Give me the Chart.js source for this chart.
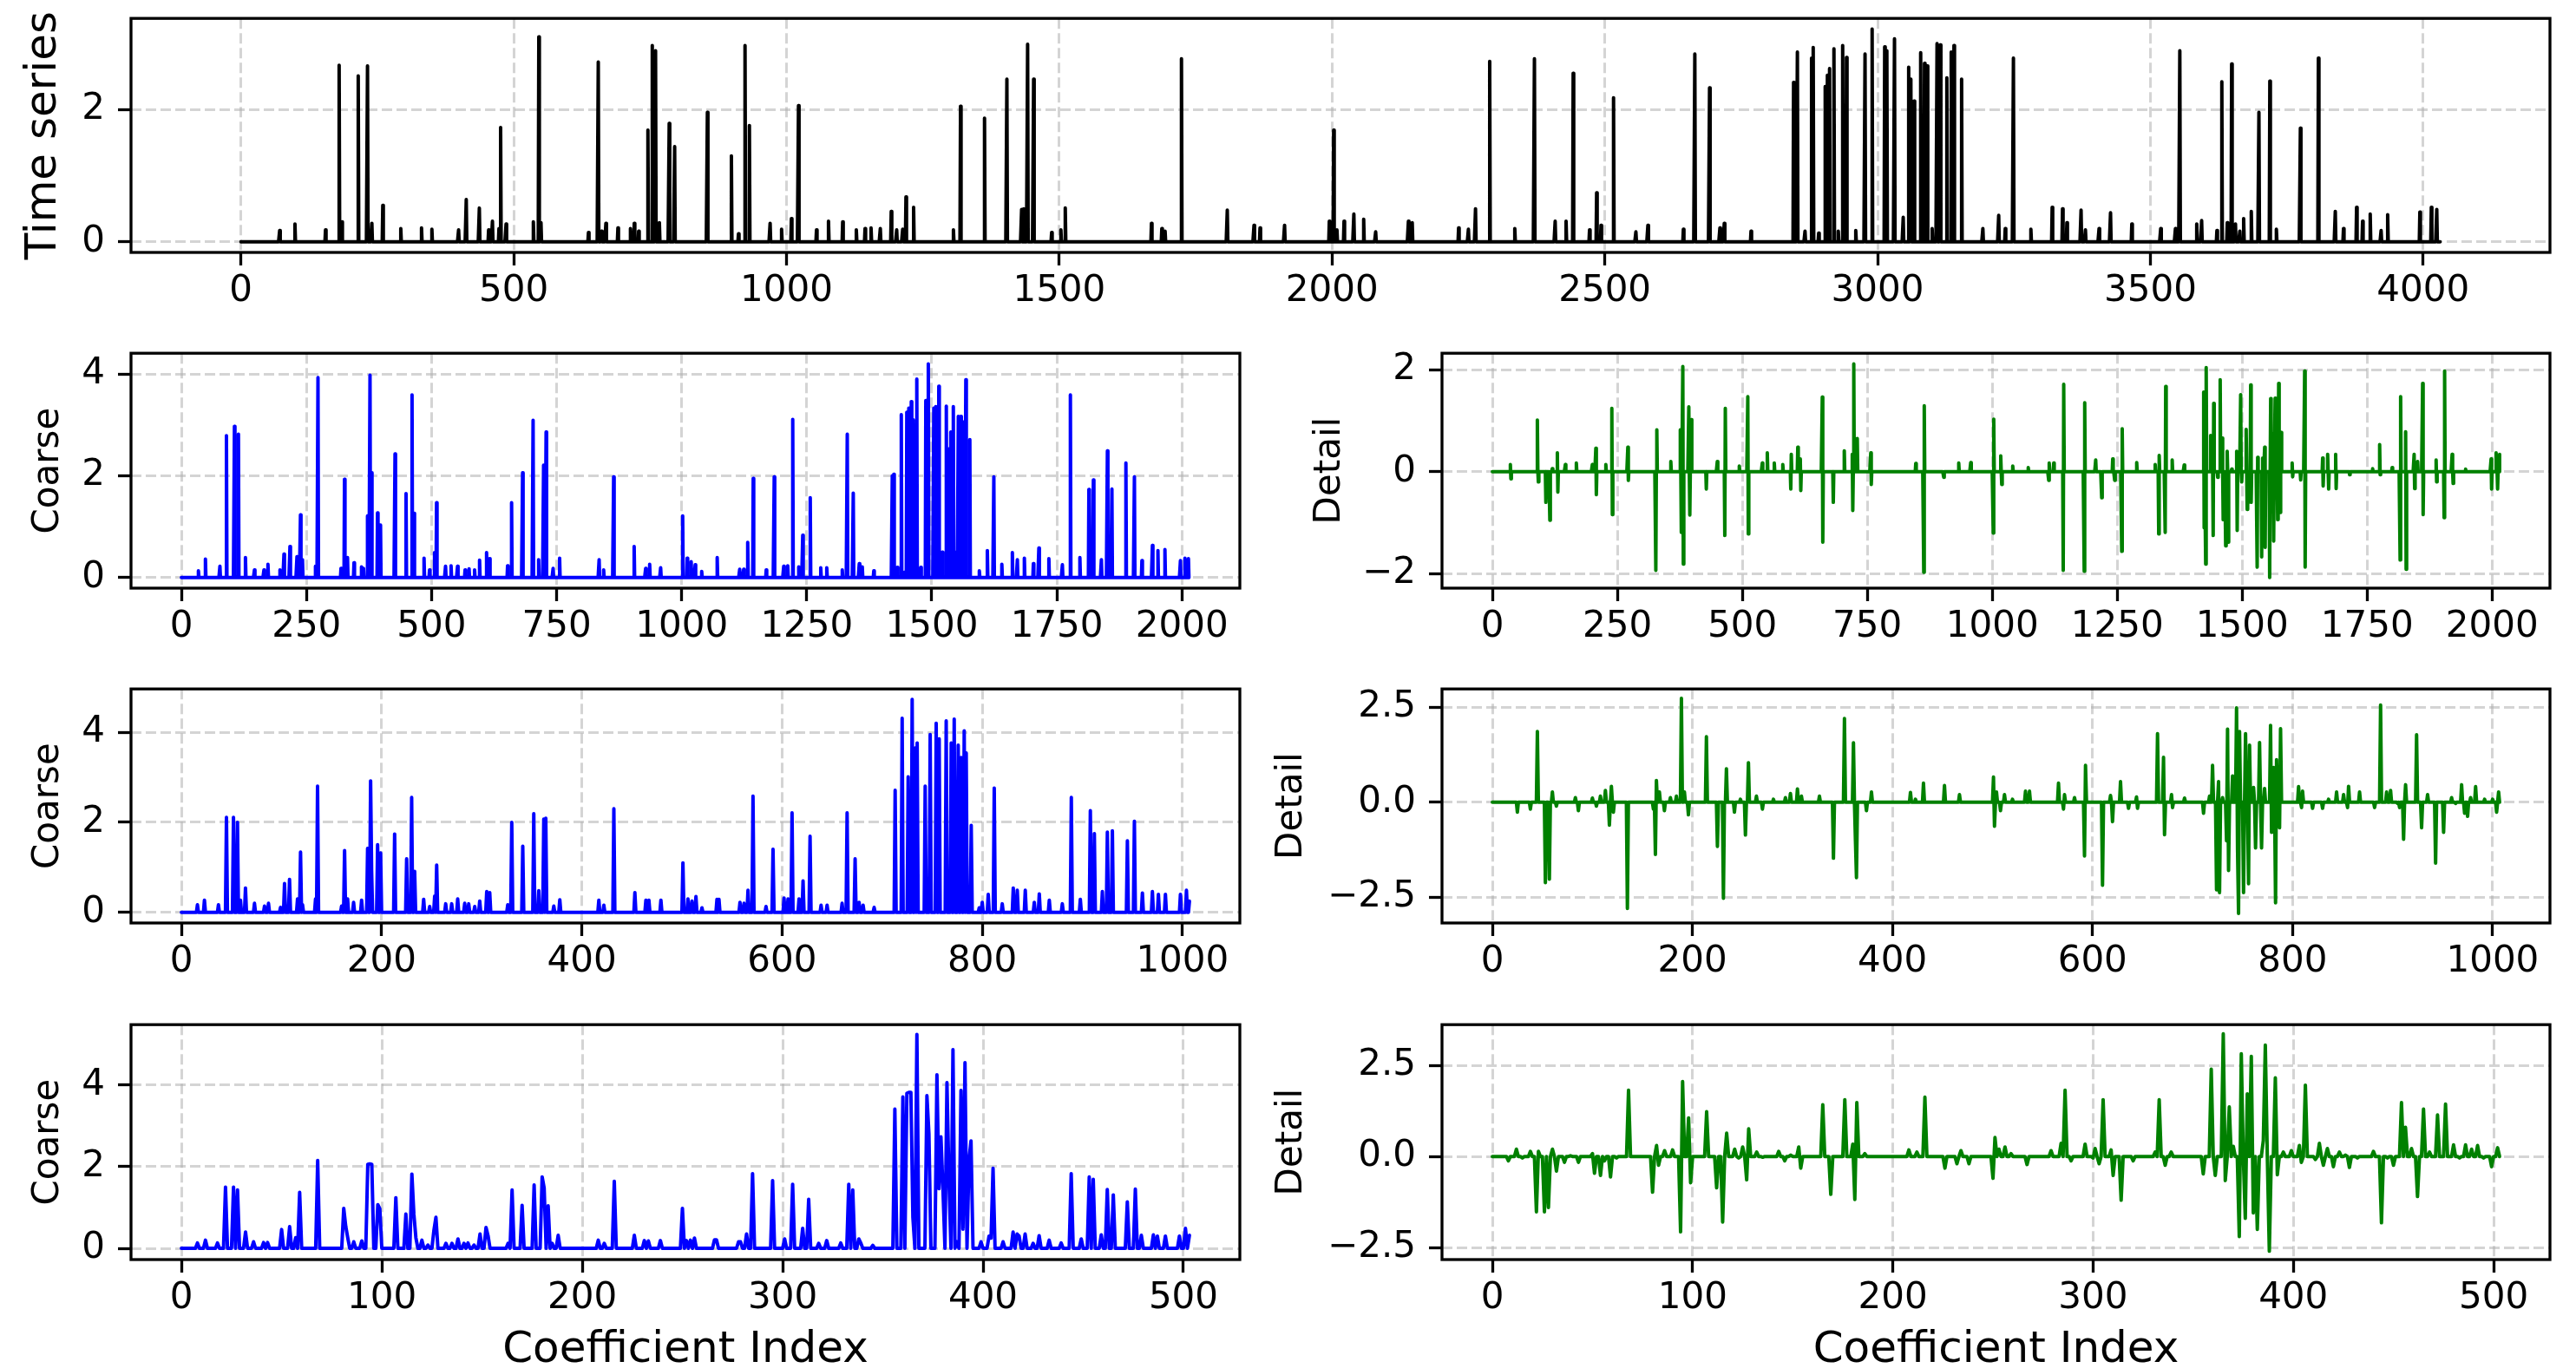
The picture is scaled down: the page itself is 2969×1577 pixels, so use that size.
<!DOCTYPE html>
<html>
<head>
<meta charset="utf-8">
<script src="https://cdn.jsdelivr.net/npm/chart.js@4.4.1/dist/chart.umd.min.js"></script>
<style>
  body { margin: 0; background: #fff; width: 2969px; height: 1577px; overflow: hidden; position: relative; }
  canvas { position: absolute; }
</style>
</head>
<body>
<canvas id="ts"></canvas>
<canvas id="c1"></canvas>
<canvas id="d1"></canvas>
<canvas id="c2"></canvas>
<canvas id="d2"></canvas>
<canvas id="c3"></canvas>
<canvas id="d3"></canvas>
<script>
// lengths of each series
const tsLength = 4032, level1Length = 2016, level2Length = 1008, level3Length = 504;

// [index, value] pairs, everything else sits at 0
const tsSpikes = [[71,0.17],[99,0.27],[155,0.18],[180,2.67],[185,0.3],[215,2.51],[232,2.66],[240,0.28],[260,0.55],[293,0.2],[331,0.21],[350,0.19],[399,0.18],[413,0.64],[437,0.51],[454,0.18],[461,0.31],[473,0.2],[476,1.73],[486,0.27],[536,0.3],[546,3.1],[550,0.29],[637,0.14],[655,2.72],[661,0.16],[669,0.28],[691,0.21],[714,0.2],[721,0.28],[729,0.16],[746,1.69],[754,2.97],[760,2.89],[767,0.29],[785,1.79],[795,1.44],[855,1.96],[899,1.3],[912,0.12],[924,2.97],[932,1.76],[970,0.28],[991,0.19],[1009,0.35],[1022,2.06],[1055,0.18],[1077,0.31],[1103,0.3],[1128,0.18],[1144,0.2],[1155,0.21],[1172,0.2],[1192,0.46],[1202,0.18],[1213,0.19],[1219,0.68],[1233,0.52],[1306,0.18],[1319,2.05],[1363,1.87],[1404,2.46],[1431,0.49],[1435,0.5],[1442,2.99],[1453,2.46],[1486,0.14],[1503,0.18],[1511,0.51],[1669,0.28],[1688,0.2],[1694,0.16],[1724,2.77],[1808,0.48],[1857,0.25],[1868,0.21],[1913,0.25],[1995,0.31],[2003,1.69],[2009,0.18],[2022,0.31],[2040,0.42],[2058,0.34],[2080,0.15],[2140,0.31],[2147,0.29],[2232,0.21],[2250,0.19],[2263,0.5],[2289,2.73],[2335,0.2],[2371,2.77],[2409,0.31],[2429,0.31],[2442,2.55],[2472,0.18],[2485,0.74],[2493,0.25],[2516,2.18],[2557,0.15],[2579,0.25],[2644,0.19],[2665,2.84],[2692,2.33],[2711,0.21],[2719,0.28],[2768,0.16],[2846,2.41],[2853,2.87],[2867,0.16],[2879,2.78],[2882,2.94],[2892,0.13],[2904,2.35],[2908,2.52],[2912,2.62],[2920,2.92],[2928,0.16],[2936,2.97],[2943,2.79],[2960,0.17],[2977,2.84],[2990,3.22],[3013,2.95],[3017,2.89],[3031,3.07],[3047,0.37],[3057,2.64],[3061,2.46],[3067,2.13],[3079,2.86],[3086,2.7],[3091,2.66],[3100,0.2],[3109,3.0],[3115,2.98],[3127,2.48],[3135,2.87],[3140,2.97],[3154,2.46],[3193,0.2],[3222,0.4],[3234,0.2],[3249,2.78],[3281,0.19],[3320,0.52],[3339,0.5],[3347,0.29],[3373,0.48],[3381,0.18],[3406,0.2],[3427,0.44],[3466,0.27],[3519,0.2],[3546,0.2],[3554,2.89],[3585,0.27],[3594,0.32],[3622,0.17],[3631,2.42],[3641,0.29],[3649,2.69],[3656,0.27],[3664,0.16],[3671,0.35],[3685,0.46],[3699,1.96],[3719,2.43],[3731,0.19],[3775,1.72],[3808,2.78],[3839,0.46],[3854,0.2],[3878,0.52],[3889,0.31],[3903,0.42],[3923,0.17],[3935,0.41],[3994,0.45],[4015,0.52],[4025,0.49]];

const coarse1 = [[34,0.13],[48,0.36],[77,0.22],[90,2.79],[106,2.97],[114,2.82],[128,0.39],[146,0.15],[165,0.15],[173,0.26],[197,0.15],[205,0.46],[217,0.61],[231,0.41],[238,1.23],[242,0.35],[268,0.22],[273,3.93],[319,0.18],[326,1.93],[332,0.39],[345,0.29],[360,0.21],[364,0.18],[372,1.21],[377,3.98],[380,2.06],[392,1.27],[398,1.03],[427,2.43],[449,1.65],[461,3.59],[465,1.26],[485,0.38],[496,0.15],[506,0.49],[510,1.47],[528,0.22],[539,0.23],[552,0.22],[567,0.15],[575,0.17],[586,0.15],[596,0.34],[610,0.49],[616,0.37],[652,0.23],[660,1.47],[682,2.06],[703,3.09],[714,0.35],[724,2.21],[729,2.86],[743,0.18],[756,0.38],[835,0.35],[844,0.15],[864,1.98],[905,0.61],[928,0.18],[936,0.26],[958,0.19],[1002,1.21],[1011,0.38],[1019,0.31],[1027,0.25],[1040,0.12],[1071,0.39],[1116,0.16],[1124,0.16],[1132,0.69],[1143,1.95],[1169,0.15],[1185,1.98],[1204,0.22],[1212,0.23],[1222,3.11],[1234,0.21],[1242,0.83],[1257,1.57],[1278,0.19],[1290,0.19],[1321,0.15],[1331,2.82],[1343,1.66],[1355,0.27],[1361,0.21],[1384,0.13],[1421,2.0],[1424,2.03],[1431,0.2],[1439,3.2],[1445,0.1],[1450,3.25],[1454,3.33],[1459,3.46],[1463,3.1],[1470,3.9],[1478,0.2],[1488,3.48],[1493,4.2],[1504,3.33],[1508,3.36],[1514,3.76],[1521,0.5],[1529,3.37],[1534,2.53],[1538,2.86],[1543,3.36],[1547,0.5],[1553,3.17],[1558,3.17],[1562,3.06],[1568,3.89],[1576,2.71],[1595,0.13],[1611,0.53],[1624,1.98],[1640,0.26],[1661,0.49],[1671,0.35],[1685,0.38],[1703,0.27],[1714,0.58],[1734,0.37],[1761,0.25],[1777,3.59],[1796,0.39],[1814,1.73],[1823,1.92],[1839,0.35],[1851,2.49],[1860,1.74],[1888,2.25],[1905,1.98],[1920,0.33],[1941,0.63],[1952,0.53],[1966,0.55],[1997,0.33],[2006,0.38],[2013,0.37]];

const detail1 = [[36,0.14],[37,-0.14],[90,1.01],[92,-0.2],[107,-0.6],[115,-0.95],[120,0.06],[130,0.37],[131,-0.4],[146,0.14],[168,0.17],[200,0.14],[207,0.46],[208,-0.45],[227,0.14],[239,1.24],[240,-0.84],[271,0.48],[272,-0.17],[327,-1.93],[329,0.82],[357,0.2],[376,0.82],[378,-1.19],[381,2.06],[382,-1.81],[393,1.27],[395,-0.85],[398,1.02],[428,-0.34],[450,0.2],[465,-1.25],[466,1.24],[494,0.11],[511,1.47],[512,-1.22],[540,0.17],[550,0.37],[564,0.17],[581,0.14],[597,-0.34],[598,0.34],[611,0.48],[616,0.25],[617,-0.37],[660,1.46],[661,-1.38],[682,-0.6],[704,0.41],[720,0.34],[721,-0.76],[723,2.11],[730,0.65],[757,0.37],[758,-0.25],[847,0.16],[863,-1.97],[864,1.29],[903,-0.11],[933,0.17],[957,0.18],[1002,-1.2],[1003,1.03],[1017,0.31],[1019,-0.25],[1041,0.11],[1072,0.08],[1113,-0.17],[1114,0.17],[1123,0.17],[1142,-1.93],[1143,1.71],[1184,-1.95],[1185,1.35],[1207,0.23],[1219,-0.51],[1241,0.25],[1245,-0.17],[1259,-1.56],[1260,0.84],[1289,0.18],[1326,0.14],[1333,-1.22],[1334,0.32],[1346,-1.19],[1347,1.67],[1360,0.23],[1384,0.13],[1423,1.56],[1424,-1.1],[1427,-1.81],[1428,2.04],[1437,0.71],[1442,-1.25],[1443,1.34],[1451,-0.11],[1456,1.8],[1460,0.66],[1462,-0.94],[1467,-1.45],[1470,0.4],[1472,-1.38],[1479,0.05],[1489,0.4],[1490,-1.15],[1497,1.51],[1499,-0.2],[1508,0.83],[1510,-0.74],[1513,-0.6],[1517,1.7],[1518,-0.6],[1530,-1.87],[1531,0.28],[1539,-1.67],[1541,0.27],[1545,0.48],[1546,-1.48],[1555,-2.07],[1557,1.43],[1561,0.75],[1563,-1.36],[1566,1.44],[1571,-0.94],[1573,1.73],[1576,-0.8],[1578,0.77],[1600,0.17],[1601,-0.1],[1617,-0.16],[1625,1.97],[1626,-1.87],[1661,0.27],[1662,-0.28],[1671,0.34],[1673,-0.34],[1687,0.34],[1688,-0.33],[1715,-0.06],[1761,0.06],[1775,0.53],[1776,-0.06],[1800,0.08],[1816,-1.73],[1817,1.47],[1827,0.78],[1828,-1.91],[1844,0.34],[1845,-0.33],[1851,0.2],[1861,1.73],[1862,-0.84],[1888,0.23],[1889,-0.2],[1904,-0.9],[1905,1.97],[1920,0.34],[1922,-0.23],[1947,0.05],[1998,0.25],[1999,-0.34],[2008,0.37],[2011,-0.34],[2015,0.34]];

const coarse2 = [[16,0.17],[23,0.27],[37,0.17],[45,2.11],[52,2.11],[56,2.0],[59,0.27],[64,0.54],[73,0.2],[83,0.14],[87,0.2],[99,0.11],[103,0.64],[108,0.73],[116,0.3],[119,1.34],[121,0.17],[134,0.3],[136,2.8],[160,0.14],[163,1.37],[166,0.3],[172,0.22],[180,0.27],[186,1.42],[189,2.92],[190,0.94],[196,1.5],[199,1.32],[213,1.74],[225,1.19],[230,2.55],[233,0.91],[242,0.29],[248,0.13],[253,0.36],[255,1.05],[264,0.19],[270,0.19],[276,0.3],[283,0.2],[287,0.19],[293,0.13],[298,0.25],[305,0.46],[308,0.44],[326,0.17],[330,2.0],[341,1.47],[352,2.19],[357,0.48],[362,2.07],[364,2.09],[372,0.14],[378,0.28],[417,0.27],[422,0.16],[432,2.3],[453,0.44],[464,0.27],[467,0.27],[479,0.27],[501,1.1],[506,0.3],[510,0.25],[514,0.35],[520,0.1],[535,0.29],[537,0.29],[558,0.22],[562,0.2],[566,0.49],[571,2.58],[584,0.13],[591,1.4],[602,0.32],[606,0.3],[610,2.21],[617,0.3],[621,0.7],[628,1.69],[639,0.16],[645,0.16],[660,0.2],[665,2.21],[673,1.19],[677,0.22],[681,0.16],[692,0.11],[713,2.71],[720,4.31],[726,3.01],[730,4.73],[733,3.65],[735,3.76],[743,2.8],[748,3.95],[754,4.2],[757,3.85],[764,4.25],[769,3.76],[772,4.29],[776,3.71],[779,3.44],[782,4.03],[784,3.54],[789,1.93],[797,0.1],[800,0.22],[806,0.4],[812,2.76],[820,0.19],[831,0.54],[835,0.49],[843,0.49],[852,0.22],[857,0.41],[867,0.27],[880,0.19],[889,2.55],[898,0.29],[908,2.26],[912,1.75],[920,0.46],[925,1.78],[930,1.81],[945,1.59],[952,2.02],[960,0.43],[970,0.46],[976,0.4],[983,0.4],[998,0.4],[1004,0.49],[1007,0.25]];

const detail2 = [[25,-0.26],[38,-0.18],[45,1.86],[53,-2.11],[57,-2.02],[60,0.27],[64,-0.1],[83,0.12],[86,-0.22],[100,0.11],[104,-0.1],[108,0.16],[113,0.31],[117,-0.6],[119,0.42],[121,-0.26],[135,-2.79],[161,-0.18],[163,-1.37],[164,0.57],[167,0.27],[172,-0.22],[178,0.12],[184,0.16],[189,2.73],[192,0.27],[196,-0.33],[214,1.72],[225,-1.16],[231,-2.52],[234,0.88],[242,-0.26],[248,0.08],[253,-0.86],[256,1.04],[264,0.16],[270,-0.18],[281,0.08],[293,0.12],[298,0.23],[305,0.35],[309,0.16],[327,0.16],[341,-1.47],[352,2.2],[361,1.56],[363,-1.01],[364,-1.98],[374,-0.22],[379,0.27],[418,0.26],[423,0.08],[431,0.5],[452,0.44],[467,0.2],[501,0.66],[502,-0.63],[504,0.27],[508,-0.22],[512,0.2],[520,0.08],[533,0.29],[537,0.29],[566,0.5],[571,-0.18],[572,0.2],[582,0.12],[592,-1.41],[593,0.97],[610,-2.18],[618,0.18],[620,-0.51],[628,0.54],[636,-0.16],[644,0.14],[645,-0.16],[665,1.8],[671,1.18],[672,-0.85],[679,0.2],[680,-0.14],[692,0.11],[711,-0.29],[717,0.16],[720,0.97],[724,-2.3],[726,0.54],[727,-2.37],[730,0.12],[734,-1.01],[735,1.92],[736,-1.79],[740,0.69],[744,2.48],[745,-1.25],[746,-2.92],[747,1.86],[751,-2.37],[753,1.8],[756,-2.14],[757,1.5],[761,0.39],[763,-1.2],[767,1.57],[769,-1.2],[772,0.36],[778,2.02],[779,-0.79],[781,0.91],[783,-2.64],[784,1.12],[787,-0.67],[788,1.93],[806,0.41],[809,-0.14],[810,0.29],[820,-0.16],[830,-0.16],[836,0.08],[844,0.27],[851,0.2],[855,-0.14],[856,0.42],[867,0.27],[882,-0.14],[888,2.55],[894,0.27],[898,0.31],[905,-0.03],[907,-0.14],[911,-0.97],[913,0.46],[924,1.77],[929,-0.67],[935,0.2],[943,-1.6],[951,-0.79],[959,0.12],[963,-0.03],[969,0.46],[972,-0.29],[975,-0.37],[978,0.12],[983,0.41],[992,0.08],[1000,0.08],[1004,-0.26],[1006,0.27]];

const coarse3 = [[8,0.13],[12,0.2],[18,0.13],[22,1.5],[26,1.5],[28,1.43],[32,0.4],[36,0.16],[41,0.14],[43,0.14],[50,0.46],[54,0.53],[57,0.26],[59,1.37],[68,2.15],[81,0.98],[82,0.54],[83,0.26],[86,0.16],[90,0.18],[93,2.06],[94,2.07],[95,2.06],[98,1.07],[99,0.97],[107,1.24],[112,0.84],[115,1.82],[116,0.83],[117,0.26],[120,0.2],[123,0.08],[126,0.44],[127,0.76],[132,0.12],[135,0.12],[138,0.23],[141,0.12],[143,0.13],[146,0.08],[149,0.35],[152,0.51],[153,0.31],[163,0.12],[165,1.43],[170,1.05],[176,1.55],[180,1.75],[181,1.48],[183,1.04],[185,0.12],[188,0.32],[208,0.2],[211,0.12],[216,1.64],[226,0.32],[231,0.19],[233,0.18],[239,0.19],[250,0.98],[252,0.19],[254,0.2],[256,0.25],[266,0.21],[267,0.21],[278,0.16],[279,0.16],[282,0.35],[285,1.83],[295,1.66],[301,0.23],[305,1.57],[310,0.49],[313,1.2],[318,0.12],[322,0.19],[329,0.13],[333,1.57],[335,1.43],[338,0.23],[339,0.13],[345,0.07],[356,3.41],[360,3.71],[362,3.8],[363,3.82],[364,3.82],[365,0.76],[367,5.24],[372,3.74],[373,2.81],[377,4.25],[378,1.46],[379,2.73],[380,1.46],[382,4.06],[383,1.67],[385,4.87],[387,0.16],[389,3.87],[390,0.47],[391,4.55],[393,2.17],[394,2.63],[399,0.16],[403,0.3],[404,0.25],[405,1.96],[410,0.16],[415,0.4],[417,0.35],[418,0.3],[421,0.35],[425,0.12],[428,0.31],[433,0.2],[439,0.13],[444,1.83],[449,0.23],[453,1.75],[455,1.69],[459,0.33],[462,1.44],[465,1.31],[472,1.14],[476,1.45],[479,0.32],[485,0.33],[487,0.3],[491,0.3],[498,0.3],[501,0.49],[503,0.32]];

const detail3 = [[8,-0.12],[12,0.2],[15,-0.04],[19,0.14],[22,-1.52],[23,0.14],[26,-1.52],[28,-1.4],[30,0.2],[32,-0.4],[36,-0.16],[39,0.02],[43,-0.16],[50,0.08],[51,-0.46],[54,-0.52],[56,-0.12],[59,-0.56],[62,-0.04],[68,1.82],[80,-0.98],[82,0.3],[83,-0.24],[86,0.16],[90,0.18],[94,-2.07],[95,2.06],[98,1.06],[99,-0.72],[107,1.23],[112,-0.86],[115,-1.8],[117,0.64],[121,0.2],[123,-0.04],[125,0.26],[127,-0.64],[128,0.76],[132,0.12],[135,-0.02],[143,0.14],[146,-0.12],[149,0.04],[153,0.26],[154,-0.32],[165,1.42],[169,-1.04],[176,1.56],[180,0.34],[181,-1.18],[182,1.48],[186,0.08],[208,0.18],[212,0.12],[216,1.63],[226,-0.32],[232,-0.2],[234,0.16],[238,-0.2],[250,-0.6],[251,0.52],[253,0.2],[256,0.26],[259,0.08],[267,-0.22],[279,0.16],[284,0.36],[286,1.82],[289,-0.12],[296,0.34],[300,-0.04],[301,0.22],[303,-0.2],[305,1.56],[309,0.18],[310,-0.52],[314,-1.2],[320,-0.12],[331,0.12],[333,1.56],[336,-0.24],[339,0.12],[355,-0.48],[359,2.4],[361,-0.52],[365,3.37],[366,-0.66],[368,1.36],[370,0.28],[373,-2.2],[374,2.82],[376,-1.7],[377,1.72],[379,2.75],[380,-1.55],[382,-2.0],[385,0.44],[386,3.06],[388,-2.6],[391,2.16],[392,-0.5],[395,0.12],[399,0.16],[403,0.3],[404,-0.16],[406,1.96],[411,-0.08],[413,0.36],[415,-0.24],[417,0.22],[420,-0.28],[423,0.12],[426,0.04],[428,-0.3],[432,-0.04],[440,0.14],[444,-1.82],[447,-0.04],[450,-0.24],[454,1.48],[456,0.8],[459,0.22],[462,-1.1],[465,1.3],[468,0.12],[472,1.14],[476,1.44],[480,0.32],[483,-0.04],[486,0.32],[489,0.2],[492,0.3],[495,-0.04],[499,-0.28],[502,0.24]];

// tick values
const tsXTicks = [0, 500, 1000, 1500, 2000, 2500, 3000, 3500, 4000];
const level1XTicks = [0, 250, 500, 750, 1000, 1250, 1500, 1750, 2000];
const level2XTicks = [0, 200, 400, 600, 800, 1000];
const level3XTicks = [0, 100, 200, 300, 400, 500];
const tsYTicks = [0, 2];
const coarseYTicks = [0, 2, 4];
const detail1YTicks = [-2, 0, 2];
const detailYTicks = [-2.5, 0, 2.5];

Chart.defaults.font.family = "'DejaVu Sans', sans-serif";
Chart.defaults.color = '#000';

function buildSeries(n, spikes) {
  const ys = new Array(n).fill(0);
  spikes.forEach(([i, v]) => { ys[i] = v; });
  return ys.map((y, i) => ({ x: i, y: y }));
}

function fmt(decimals) {
  return v => (v < 0 ? '\u2212' : '') + Math.abs(v).toFixed(decimals);
}

const frame = {
  id: 'frame',
  afterDraw(chart) {
    const { ctx, chartArea: a } = chart;
    ctx.save();
    ctx.strokeStyle = '#000';
    ctx.lineWidth = 3.3;
    ctx.strokeRect(a.left, a.top, a.right - a.left, a.bottom - a.top);
    ctx.restore();
  }
};

const PAD_TOP = 40, PAD_RIGHT = 30;
const gridColor = 'rgba(176,176,176,0.55)';

function makePanel(p) {
  const canvas = document.getElementById(p.id);
  const w = p.right + PAD_RIGHT - p.canvasLeft;
  const h = PAD_TOP + (p.bottom - p.top) + p.xHeight;
  canvas.width = w;
  canvas.height = h;
  canvas.style.left = p.canvasLeft + 'px';
  canvas.style.top = (p.top - PAD_TOP) + 'px';
  const yWidth = p.left - p.canvasLeft;

  const gridOpts = {
    color: gridColor, lineWidth: 3, tickColor: '#000', tickWidth: 3.3,
    tickLength: 15, tickBorderDash: []
  };

  new Chart(canvas, {
    type: 'line',
    data: {
      datasets: [{
        data: buildSeries(p.n, p.spikes),
        borderColor: p.color,
        borderWidth: 4,
        pointRadius: 0,
        tension: 0,
        borderJoinStyle: 'round',
        borderCapStyle: 'round',
        fill: false
      }]
    },
    options: {
      responsive: false,
      animation: false,
      devicePixelRatio: 1,
      layout: { padding: { top: PAD_TOP, right: PAD_RIGHT, left: 0, bottom: 0 } },
      plugins: { legend: { display: false }, tooltip: { enabled: false } },
      scales: {
        x: {
          type: 'linear',
          min: p.xMin, max: p.xMax,
          afterBuildTicks: s => { s.ticks = p.xTicks.map(v => ({ value: v })); },
          afterFit: s => { s.height = p.xHeight; },
          ticks: { font: { size: 42 }, padding: 5, maxRotation: 0, autoSkip: false, callback: fmt(0) },
          grid: gridOpts,
          border: { display: false, dash: [12, 5] },
          title: {
            display: !!p.xTitle, text: p.xTitle || '',
            font: { size: 50, lineHeight: 1 }, padding: { top: 0, bottom: 0 }
          }
        },
        y: {
          min: p.yMin, max: p.yMax,
          afterBuildTicks: s => { s.ticks = p.yTicks.map(v => ({ value: v })); },
          afterFit: s => { s.width = yWidth; },
          ticks: { font: { size: 42 }, padding: 15, autoSkip: false, callback: fmt(p.yDecimals) },
          grid: gridOpts,
          border: { display: false, dash: [12, 5] },
          title: {
            display: true, text: p.yTitle,
            font: { size: p.yTitleSize, lineHeight: 1 }, padding: { top: 0, bottom: 0 }
          }
        }
      }
    },
    plugins: [frame]
  });
}

const blue = '#0000ff', green = '#008000';

makePanel({ id: 'ts', n: tsLength, spikes: tsSpikes, color: '#000000',
  canvasLeft: 26, left: 151, right: 2939, top: 21, bottom: 291, xHeight: 80,
  xMin: -201.5, xMax: 4232.5, xTicks: tsXTicks, yMin: -0.161, yMax: 3.38, yTicks: tsYTicks, yDecimals: 0,
  yTitle: 'Time series', yTitleSize: 50 });

makePanel({ id: 'c1', n: level1Length, spikes: coarse1, color: blue,
  canvasLeft: 35, left: 151, right: 1429, top: 407, bottom: 678, xHeight: 80,
  xMin: -100.75, xMax: 2115.75, xTicks: level1XTicks, yMin: -0.21, yMax: 4.41, yTicks: coarseYTicks, yDecimals: 0,
  yTitle: 'Coarse', yTitleSize: 42 });

makePanel({ id: 'd1', n: level1Length, spikes: detail1, color: green,
  canvasLeft: 1512, left: 1662, right: 2939, top: 407, bottom: 678, xHeight: 80,
  xMin: -100.75, xMax: 2115.75, xTicks: level1XTicks, yMin: -2.28, yMax: 2.32, yTicks: detail1YTicks, yDecimals: 0,
  yTitle: 'Detail', yTitleSize: 42 });

makePanel({ id: 'c2', n: level2Length, spikes: coarse2, color: blue,
  canvasLeft: 35, left: 151, right: 1429, top: 794, bottom: 1064, xHeight: 80,
  xMin: -50.35, xMax: 1057.35, xTicks: level2XTicks, yMin: -0.236, yMax: 4.96, yTicks: coarseYTicks, yDecimals: 0,
  yTitle: 'Coarse', yTitleSize: 42 });

makePanel({ id: 'd2', n: level2Length, spikes: detail2, color: green,
  canvasLeft: 1468, left: 1662, right: 2939, top: 794, bottom: 1064, xHeight: 80,
  xMin: -50.35, xMax: 1057.35, xTicks: level2XTicks, yMin: -3.17, yMax: 2.975, yTicks: detailYTicks, yDecimals: 1,
  yTitle: 'Detail', yTitleSize: 42 });

makePanel({ id: 'c3', n: level3Length, spikes: coarse3, color: blue,
  canvasLeft: 35, left: 151, right: 1429, top: 1181, bottom: 1452, xHeight: 130,
  xMin: -25.15, xMax: 528.15, xTicks: level3XTicks, yMin: -0.276, yMax: 5.48, yTicks: coarseYTicks, yDecimals: 0,
  yTitle: 'Coarse', yTitleSize: 42, xTitle: 'Coefficient Index' });

makePanel({ id: 'd3', n: level3Length, spikes: detail3, color: green,
  canvasLeft: 1468, left: 1662, right: 2939, top: 1181, bottom: 1452, xHeight: 130,
  xMin: -25.15, xMax: 528.15, xTicks: level3XTicks, yMin: -2.83, yMax: 3.62, yTicks: detailYTicks, yDecimals: 1,
  yTitle: 'Detail', yTitleSize: 42, xTitle: 'Coefficient Index' });
</script>
</body>
</html>
